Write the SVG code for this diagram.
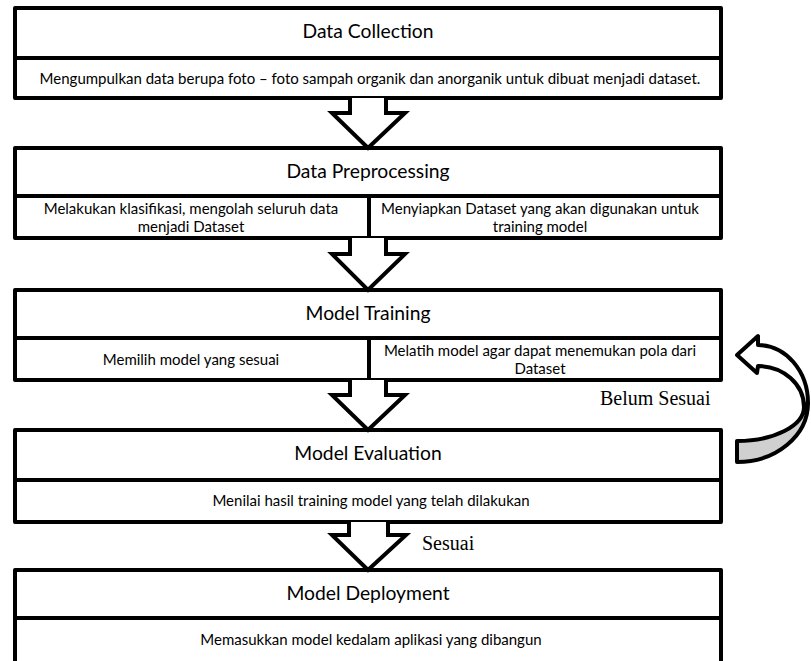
<svg xmlns="http://www.w3.org/2000/svg" width="811" height="661" viewBox="0 0 811 661">
<style>
.box{fill:#fff;stroke:#000;stroke-width:4;stroke-linejoin:round}
.dv{stroke:#000;stroke-width:4;fill:none}
.t{font-family:Lato,"Liberation Sans",sans-serif;text-anchor:middle;fill:#000}
.title{font-size:19.3px}
.sub{font-size:15px}
.lbl{font-family:"Liberation Serif",serif;font-size:20px;fill:#000}
.arr{fill:#fff;stroke:#000;stroke-width:4;stroke-linejoin:miter}
.curve{stroke:#000;stroke-width:4;stroke-linejoin:round}
</style>
<rect width="811" height="661" fill="#fff"/>
<g id="data-collection">
<rect class="box" x="15" y="8" width="706" height="90"/>
<line class="dv" x1="15" y1="58" x2="721" y2="58"/>
<text class="t title" x="368" y="38">Data Collection</text>
<text class="t sub" x="370" y="84">Mengumpulkan data berupa foto – foto sampah organik dan anorganik untuk dibuat menjadi dataset.</text>
</g>
<g id="data-preprocessing">
<rect class="box" x="15" y="148" width="706" height="90"/>
<line class="dv" x1="15" y1="196" x2="721" y2="196"/>
<line class="dv" x1="369" y1="196" x2="369" y2="238"/>
<text class="t title" x="368" y="178">Data Preprocessing</text>
<text class="t sub" x="191" y="214">Melakukan klasifikasi, mengolah seluruh data</text>
<text class="t sub" x="191" y="232">menjadi Dataset</text>
<text class="t sub" x="540" y="214">Menyiapkan Dataset yang akan digunakan untuk</text>
<text class="t sub" x="540" y="232">training model</text>
</g>
<g id="model-training">
<rect class="box" x="15" y="290" width="706" height="90"/>
<line class="dv" x1="15" y1="338" x2="721" y2="338"/>
<line class="dv" x1="369" y1="338" x2="369" y2="380"/>
<text class="t title" x="368" y="320">Model Training</text>
<text class="t sub" x="191" y="365">Memilih model yang sesuai</text>
<text class="t sub" x="540" y="356">Melatih model agar dapat menemukan pola dari</text>
<text class="t sub" x="540" y="374">Dataset</text>
</g>
<g id="model-evaluation">
<rect class="box" x="15" y="430" width="706" height="92"/>
<line class="dv" x1="15" y1="480" x2="721" y2="480"/>
<text class="t title" x="368" y="460">Model Evaluation</text>
<text class="t sub" x="371" y="506">Menilai hasil training model yang telah dilakukan</text>
</g>
<g id="model-deployment">
<rect class="box" x="15" y="570" width="706" height="96"/>
<line class="dv" x1="15" y1="618" x2="721" y2="618"/>
<text class="t title" x="368" y="600">Model Deployment</text>
<text class="t sub" x="371" y="645">Memasukkan model kedalam aplikasi yang dibangun</text>
</g>
<g id="connectors">
<path class="arr" d="M350,98 L350,113 L332,113 L368,148 L405,113 L386,113 L386,98"/>
<path class="arr" d="M350,238 L350,254 L332,254 L368,290 L405,254 L386,254 L386,238"/>
<path class="arr" d="M350,380 L350,395 L332,395 L368,430 L405,395 L386,395 L386,380"/>
<path class="arr" d="M349,522 L349,535 L332,535 L368,570 L406,535 L388,535 L388,522"/>
<path class="curve" fill="#fff" d="M737,355 L758,336 L758,345 A50 58 0 0 1 808,403 L804,407 A46 41 0 0 0 758,366 L757,373 Z"/>
<path class="curve" fill="#d0d0d0" d="M804,407 A67 34 0 0 1 737,441 L737,462 A71 59 0 0 0 808,403 Z"/>
<text class="lbl" x="600" y="405">Belum Sesuai</text>
<text class="lbl" x="422" y="550">Sesuai</text>
</g>
</svg>
